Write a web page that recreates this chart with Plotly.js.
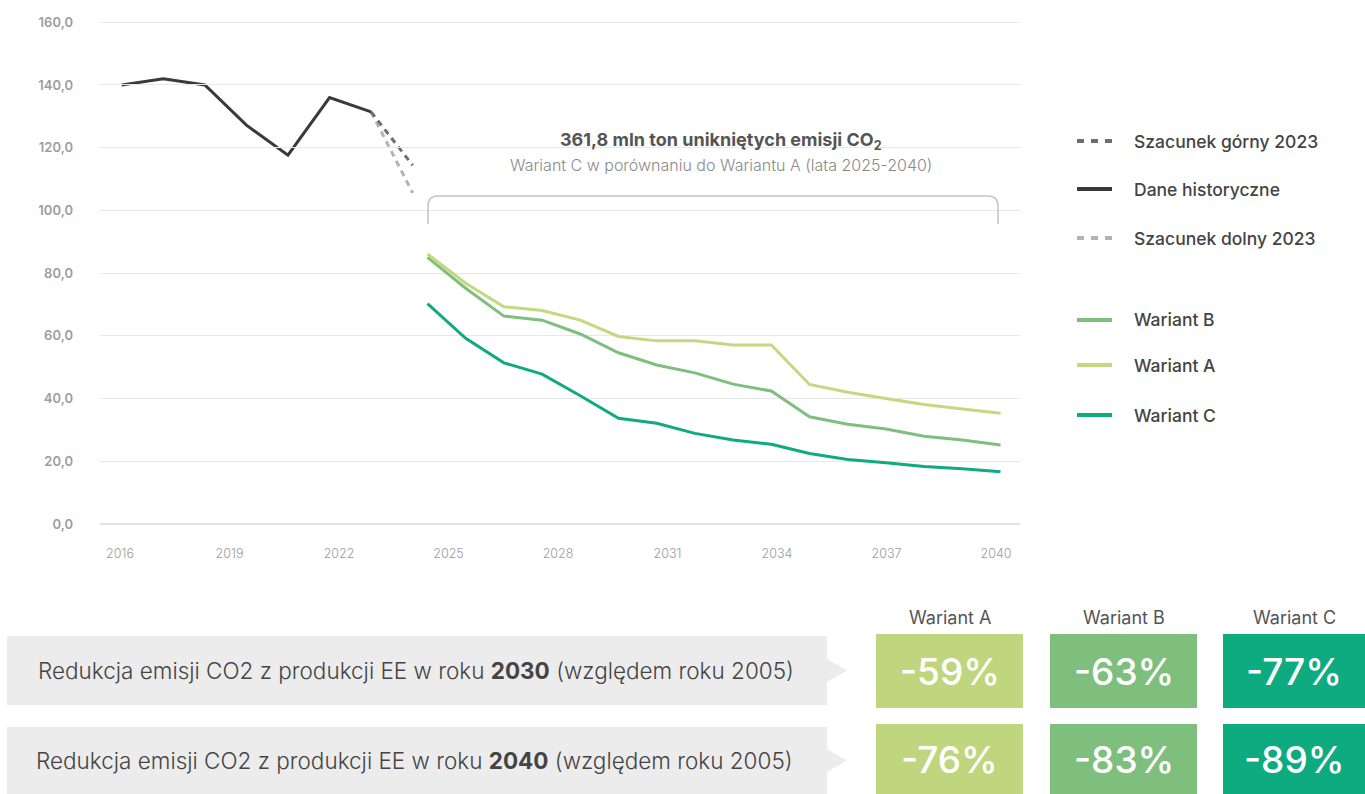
<!DOCTYPE html>
<html><head><meta charset="utf-8">
<script src="https://cdn.plot.ly/plotly-3.0.1.min.js"></script>
<style>html,body{margin:0;padding:0;background:#fff}#chart{width:1365px;height:794px}</style>
</head><body><div id="chart"></div>
<script>
// ---------- data ----------
const histYears = [2016, 2017, 2018, 2019, 2020, 2021, 2022];
const histValues = [140.0, 142.0, 140.0, 127.2, 117.6, 136.0, 131.4];
const estYears = [2022, 2023];
const upperEstimate = [131.4, 114.4];
const lowerEstimate = [131.4, 105.6];
const variantYears = [2025, 2026, 2027, 2028, 2029, 2030, 2031, 2032, 2033, 2034, 2035, 2036, 2037, 2038, 2039, 2040];
const variantA = [86.1, 76.8, 69.3, 68.1, 65.0, 59.8, 58.4, 58.4, 57.1, 57.1, 44.5, 42.0, 40.0, 38.1, 36.7, 35.3];
const variantB = [85.0, 75.2, 66.3, 65.0, 60.6, 54.6, 50.7, 48.2, 44.6, 42.4, 34.2, 31.8, 30.3, 28.0, 26.8, 25.2];
const variantC = [70.3, 59.2, 51.4, 47.8, 40.9, 33.7, 32.1, 28.9, 26.8, 25.4, 22.5, 20.6, 19.5, 18.3, 17.6, 16.7];
const xTickYears = [2016, 2019, 2022, 2025, 2028, 2031, 2034, 2037, 2040];
const yTickValues = [0, 20, 40, 60, 80, 100, 120, 140, 160];
const seriesNames = ['Szacunek górny 2023', 'Dane historyczne', 'Szacunek dolny 2023', 'Wariant B', 'Wariant A', 'Wariant C'];
const tableVariants = ['Wariant A', 'Wariant B', 'Wariant C'];
const reduction2030 = [-59, -63, -77];
const reduction2040 = [-76, -83, -89];
const rowYears = [2030, 2040];
const baseYear = 2005;
const avoidedEmissions = '361,8';

// ---------- styling / geometry helpers ----------
const W = 1365, H = 794;
const X = p => p / W;
const Y = p => 1 - p / H;
const FONT = 'Inter, "Noto Sans", sans-serif';
const cHist = '#3a3a3a', cUpper = '#6e6e6e', cLower = '#b3b3b3';
const cA = '#c2d97f', cB = '#7fbf7e', cC = '#10aa7f';
const boxColors = ['#bfd67f', '#7fbf7e', '#0fab80'];

const traces = [
  // carrier for the visible year axis (no marks drawn)
  {x: xTickYears, y: xTickYears.map(() => null), xaxis: 'x', yaxis: 'y', mode: 'lines',
   line: {color: 'rgba(0,0,0,0)', width: 0}, showlegend: false, hoverinfo: 'skip'},
  {x: estYears, y: lowerEstimate, xaxis: 'x2', yaxis: 'y', mode: 'lines', name: seriesNames[2],
   line: {color: cLower, width: 3, dash: '6px,5px'}, showlegend: false, hoverinfo: 'skip'},
  {x: estYears, y: upperEstimate, xaxis: 'x2', yaxis: 'y', mode: 'lines', name: seriesNames[0],
   line: {color: cUpper, width: 3, dash: '6px,5px'}, showlegend: false, hoverinfo: 'skip'},
  {x: histYears, y: histValues, xaxis: 'x2', yaxis: 'y', mode: 'lines', name: seriesNames[1],
   line: {color: cHist, width: 3}, showlegend: false},
  {x: variantYears, y: variantB, xaxis: 'x3', yaxis: 'y', mode: 'lines', name: seriesNames[3],
   line: {color: cB, width: 3}, showlegend: false},
  {x: variantYears, y: variantA, xaxis: 'x3', yaxis: 'y', mode: 'lines', name: seriesNames[4],
   line: {color: cA, width: 3}, showlegend: false},
  {x: variantYears, y: variantC, xaxis: 'x3', yaxis: 'y', mode: 'lines', name: seriesNames[5],
   line: {color: cC, width: 3}, showlegend: false}
];

const shapes = [];
const annotations = [];

// bracket above variant lines
const bl = 428, br = 998, bt = 196, bb = 224, rr = 10;
shapes.push({type: 'path', xref: 'paper', yref: 'paper',
  path: `M ${X(bl)},${Y(bb)} L ${X(bl)},${Y(bt + rr)} Q ${X(bl)},${Y(bt)} ${X(bl + rr)},${Y(bt)} L ${X(br - rr)},${Y(bt)} Q ${X(br)},${Y(bt)} ${X(br)},${Y(bt + rr)} L ${X(br)},${Y(bb)}`,
  line: {color: '#c4c4c4', width: 1.5}});
annotations.push({xref: 'paper', yref: 'paper', x: X(721), y: Y(141), xanchor: 'center', yanchor: 'middle', showarrow: false,
  text: `<b>${avoidedEmissions} mln ton unikniętych emisji CO<sub>2</sub></b>`, font: {family: FONT, size: 18, color: '#555555'}});
annotations.push({xref: 'paper', yref: 'paper', x: X(721), y: Y(165), xanchor: 'center', yanchor: 'middle', showarrow: false,
  text: 'Wariant C w porównaniu do Wariantu A (lata 2025-2040)', font: {family: FONT, size: 16, color: '#8a8a8a', weight: 300}});

// custom legend
const legendRows = [
  {name: seriesNames[0], y: 141, color: cUpper, dash: '7px,7px'},
  {name: seriesNames[1], y: 189, color: cHist, dash: 'solid'},
  {name: seriesNames[2], y: 238, color: cLower, dash: '7px,7px'},
  {name: seriesNames[3], y: 320, color: cB, dash: 'solid'},
  {name: seriesNames[4], y: 365, color: cA, dash: 'solid'},
  {name: seriesNames[5], y: 415, color: cC, dash: 'solid'}
];
legendRows.forEach(r => {
  shapes.push({type: 'line', xref: 'paper', yref: 'paper', x0: X(1077), x1: X(1112), y0: Y(r.y), y1: Y(r.y),
    line: {color: r.color, width: 4, dash: r.dash}});
  annotations.push({xref: 'paper', yref: 'paper', x: X(1132), y: Y(r.y), xanchor: 'left', yanchor: 'middle', showarrow: false,
    text: r.name, font: {family: FONT, size: 17.5, color: '#444444', weight: 500}});
});

// bottom table
const rows = [
  {year: rowYears[0], values: reduction2030, top: 636, bot: 705, cTop: 634, cBot: 708, textX: 36},
  {year: rowYears[1], values: reduction2040, top: 727, bot: 794, cTop: 724, cBot: 794, textX: 34}
];
const colX = [[876, 1023], [1050, 1197], [1223, 1365]];
rows.forEach(r => {
  const mid = (r.top + r.bot) / 2;
  shapes.push({type: 'path', xref: 'paper', yref: 'paper', layer: 'below',
    path: `M ${X(7)},${Y(r.top)} L ${X(827)},${Y(r.top)} L ${X(827)},${Y(mid - 11.5)} L ${X(847)},${Y(mid)} L ${X(827)},${Y(mid + 11.5)} L ${X(827)},${Y(r.bot)} L ${X(7)},${Y(r.bot)} Z`,
    fillcolor: '#ececec', line: {width: 0}});
  annotations.push({xref: 'paper', yref: 'paper', x: X(r.textX), y: Y(mid), xanchor: 'left', yanchor: 'middle', showarrow: false,
    text: `Redukcja emisji CO2 z produkcji EE w roku <b>${r.year}</b> (względem roku ${baseYear})`,
    font: {family: FONT, size: 22.5, color: '#444444', weight: 300}});
  r.values.forEach((v, i) => {
    shapes.push({type: 'rect', xref: 'paper', yref: 'paper', layer: 'below',
      x0: X(colX[i][0]), x1: X(colX[i][1]), y0: Y(r.cBot), y1: Y(r.cTop), fillcolor: boxColors[i], line: {width: 0}});
    annotations.push({xref: 'paper', yref: 'paper', x: X((colX[i][0] + colX[i][1]) / 2), y: Y((r.cTop + r.cBot) / 2),
      xanchor: 'center', yanchor: 'middle', showarrow: false, text: `${v}%`,
      font: {family: FONT, size: 37, color: '#ffffff', weight: 500}});
  });
});
tableVariants.forEach((name, i) => {
  annotations.push({xref: 'paper', yref: 'paper', x: X((colX[i][0] + colX[i][1]) / 2), y: Y(617), xanchor: 'center', yanchor: 'middle',
    showarrow: false, text: name, font: {family: FONT, size: 18, color: '#555555'}});
});

const xDomain = [X(100), X(1020)];
const yDomain = [Y(524), Y(20.7)];
const hiddenX = {domain: xDomain, anchor: 'y', showgrid: false, zeroline: false, showline: false,
  showticklabels: false, ticks: '', fixedrange: true};
const layout = {
  width: W, height: H,
  margin: {l: 0, r: 0, t: 0, b: 0, autoexpand: false},
  paper_bgcolor: '#ffffff', plot_bgcolor: 'rgba(0,0,0,0)',
  separators: ', ',
  showlegend: false,
  font: {family: FONT},
  xaxis: {domain: xDomain, range: [2015.452, 2040.658], tickmode: 'array', tickvals: xTickYears,
    showgrid: false, zeroline: false, showline: false, ticks: 'outside', ticklen: 18, tickcolor: 'rgba(0,0,0,0)',
    tickfont: {family: FONT, size: 12.5, color: '#9a9a9a', weight: 300}, anchor: 'y', side: 'bottom', fixedrange: true},
  xaxis2: Object.assign({}, hiddenX, {range: [2015.478, 2037.61]}),
  xaxis3: Object.assign({}, hiddenX, {range: [2016.427, 2040.51]}),
  yaxis: {domain: yDomain, range: [0, 160.5], anchor: 'x', tickmode: 'array', tickvals: yTickValues, tickformat: '.1f',
    showgrid: true, gridcolor: '#e8e8e8', gridwidth: 1, zeroline: true, zerolinecolor: '#e2e2e2', zerolinewidth: 2,
    showline: false, ticks: '', ticklabelstandoff: 26,
    tickfont: {family: FONT, size: 13, color: '#9d9d9d', weight: 600}, fixedrange: true},
  shapes: shapes,
  annotations: annotations
};

Plotly.newPlot('chart', traces, layout, {displayModeBar: false, staticPlot: true});
</script>
</body></html>
